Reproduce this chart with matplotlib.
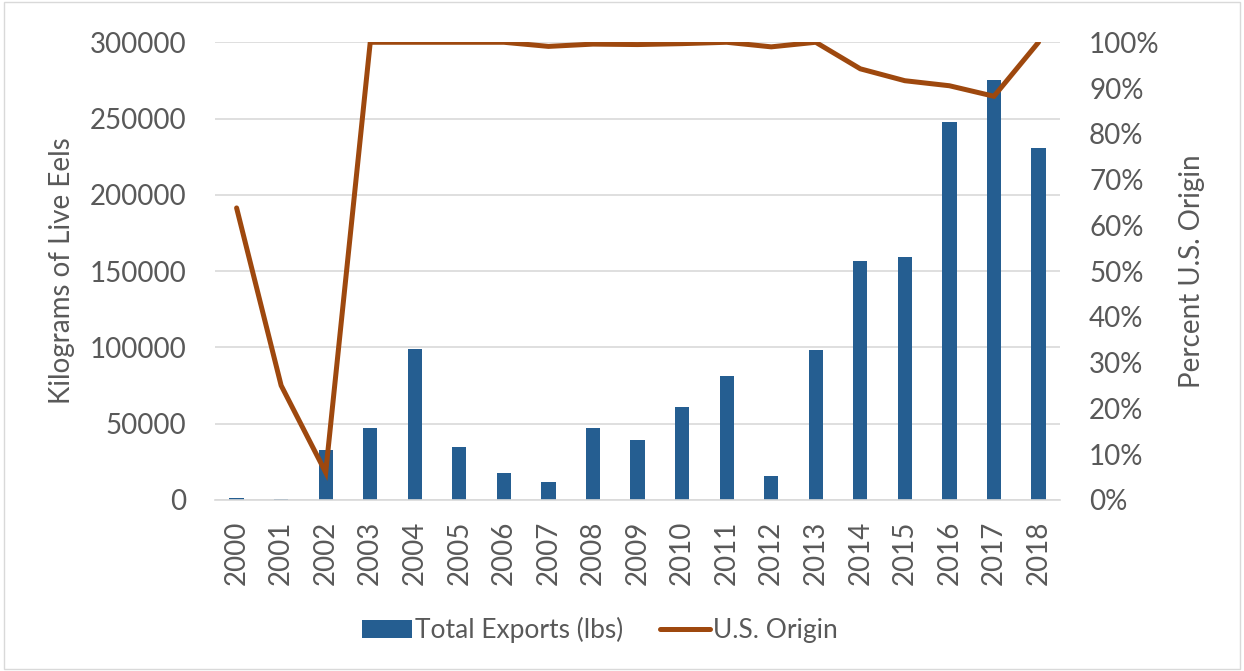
import numpy as np
import matplotlib.pyplot as plt
from matplotlib.ticker import PercentFormatter
from matplotlib.patches import Rectangle

years = [str(y) for y in range(2000, 2019)]
total_exports = [1500, 800, 33000, 47000, 99000, 35000, 17500, 12000, 47000, 39500,
                 61000, 81000, 15500, 98000, 156500, 159000, 247500, 275000, 230500]
us_origin = [63.8, 25.0, 6.0, 100.0, 100.0, 100.0, 100.0, 99.1, 99.6, 99.5,
             99.7, 100.0, 99.0, 100.0, 94.2, 91.6, 90.5, 88.2, 100.0]

text_color = '#595959'
bar_color = '#255E91'
line_color = '#9E480E'
fs = 20

plt.rcParams['font.family'] = ['Lato', 'DejaVu Sans']
plt.rcParams['font.size'] = fs

fig = plt.figure(figsize=(12.44, 6.71), dpi=100)
ax = fig.add_axes([0.173, 0.255, 0.679, 0.682])
ax2 = ax.twinx()

x = np.arange(len(years))
ax.bar(x, total_exports, width=0.32, color=bar_color, label='Total Exports (lbs)', zorder=2)
ax2.plot(x, us_origin, color=line_color, linewidth=3.6, label='U.S. Origin',
         solid_capstyle='round', solid_joinstyle='miter', zorder=3)

ax.set_xlim(-0.48, len(years) - 0.52)
ax.set_ylim(0, 300000)
ax.set_yticks(range(0, 300001, 50000))
ax2.set_ylim(0, 100)
ax2.set_yticks(range(0, 101, 10))
ax2.yaxis.set_major_formatter(PercentFormatter(decimals=0))

ax.set_xticks(x)
ax.set_xticklabels(years, rotation=90)
ax.grid(axis='y', color='#d9d9d9', linewidth=1.2, zorder=0)
ax.set_axisbelow(True)

for a in (ax, ax2):
    for s in a.spines.values():
        s.set_visible(False)
    a.tick_params(length=0, colors=text_color, labelsize=fs)
ax.spines['bottom'].set_visible(True)
ax.spines['bottom'].set_color('#d9d9d9')
ax.spines['bottom'].set_linewidth(1.2)
ax.tick_params(axis='y', pad=21)
ax.tick_params(axis='x', pad=15)
ax2.tick_params(axis='y', pad=21)

ax.set_ylabel('Kilograms of Live Eels', color=text_color, fontsize=fs, labelpad=10)
ax2.set_ylabel('Percent U.S. Origin', color=text_color, fontsize=fs, labelpad=14)

h1, l1 = ax.get_legend_handles_labels()
h2, l2 = ax2.get_legend_handles_labels()
leg = fig.legend(h1 + h2, l1 + l2, loc='center', bbox_to_anchor=(0.482, 0.061), ncol=2,
                 frameon=False, fontsize=19, handlelength=1.9, handletextpad=0.1,
                 columnspacing=1.4)
for t in leg.get_texts():
    t.set_color(text_color)

fig.patches.append(Rectangle((0.003, 0.003), 0.994, 0.994, transform=fig.transFigure,
                             fill=False, edgecolor='#d9d9d9', linewidth=1))

fig.savefig('out.png', dpi=100)
